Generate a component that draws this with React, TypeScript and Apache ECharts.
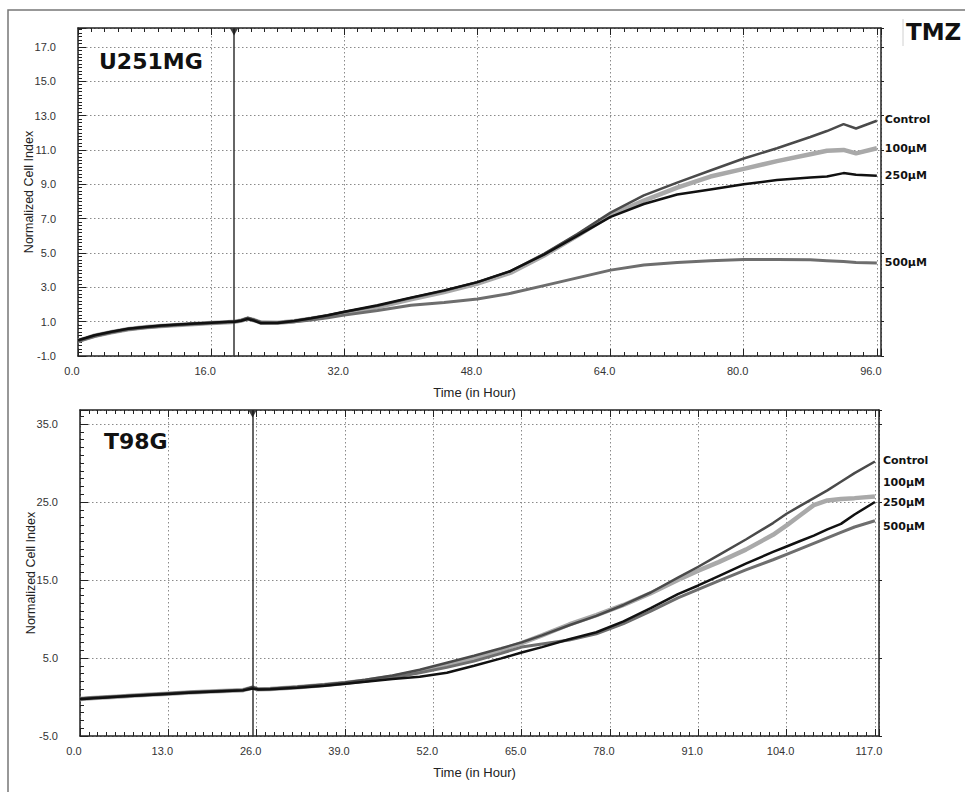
import React, { useEffect, useRef } from 'react';
import * as echarts from 'echarts';

// ---------- U251MG (top panel) ----------
const topTimes = [0, 1, 2, 4, 6, 8, 10, 12, 14, 16, 18, 18.8, 19.6, 20.4, 21.2, 22, 24, 26, 28, 30, 32, 36, 40, 44, 48, 52, 56, 60, 64, 68, 72, 76, 80, 84, 88, 90, 92, 93.5, 96];
const topControl = [-0.1, 0.05, 0.2, 0.4, 0.58, 0.68, 0.76, 0.82, 0.88, 0.93, 0.98, 1.0, 1.08, 1.22, 1.1, 0.95, 0.95, 1.05, 1.2, 1.36, 1.56, 1.92, 2.38, 2.8, 3.3, 3.95, 4.95, 6.1, 7.35, 8.35, 9.1, 9.8, 10.5, 11.1, 11.75, 12.1, 12.5, 12.25, 12.7];
const top100 = [-0.12, 0.03, 0.18, 0.38, 0.56, 0.67, 0.75, 0.81, 0.87, 0.92, 0.97, 1.0, 1.06, 1.18, 1.08, 0.95, 0.93, 1.03, 1.17, 1.32, 1.5, 1.85, 2.3, 2.72, 3.22, 3.85, 4.85, 6.0, 7.2, 8.05, 8.8, 9.45, 9.9, 10.35, 10.75, 10.95, 11.0, 10.8, 11.1];
const top250 = [-0.08, 0.06, 0.21, 0.41, 0.59, 0.69, 0.77, 0.83, 0.89, 0.94, 0.99, 1.0, 1.05, 1.15, 1.05, 0.9, 0.92, 1.04, 1.2, 1.37, 1.58, 1.95, 2.4, 2.82, 3.3, 3.95, 4.9, 6.0, 7.1, 7.85, 8.4, 8.7, 9.0, 9.25, 9.4, 9.45, 9.65, 9.55, 9.5];
const top500 = [-0.15, 0.0, 0.15, 0.36, 0.54, 0.65, 0.73, 0.8, 0.86, 0.91, 0.97, 1.0, 1.05, 1.2, 1.08, 0.95, 0.93, 1.0, 1.1, 1.22, 1.38, 1.65, 1.95, 2.12, 2.32, 2.65, 3.1, 3.55, 4.0, 4.3, 4.45, 4.55, 4.62, 4.62, 4.6, 4.55, 4.5, 4.45, 4.42];
const topMarkerTime = 18.75;

// ---------- T98G (bottom panel) ----------
const botTimes = [0, 2, 4, 6, 8, 10, 13, 16, 20, 24, 25.4, 26.2, 28, 32, 36, 39, 42, 46, 50, 54, 58, 62, 65, 68, 72, 76, 80, 84, 88, 91, 94, 98, 102, 104, 106, 108, 110, 112, 114, 117];
const botControl = [-0.2, -0.1, 0.0, 0.1, 0.2, 0.3, 0.45, 0.6, 0.75, 0.9, 1.3, 1.0, 1.05, 1.3, 1.6, 1.85, 2.2, 2.75, 3.5, 4.4, 5.3, 6.25, 7.0, 7.9, 9.2, 10.4, 11.8, 13.4, 15.3, 16.7, 18.2, 20.2, 22.3, 23.5, 24.5, 25.5, 26.5, 27.6, 28.7, 30.2];
const bot100 = [-0.25, -0.12, -0.02, 0.08, 0.18, 0.28, 0.43, 0.58, 0.73, 0.88, 1.2, 0.98, 1.02, 1.25, 1.55, 1.8, 2.1, 2.6, 3.25, 4.1, 5.0, 6.0, 6.9, 7.9, 9.3, 10.5, 11.8, 13.3, 15.0, 16.2, 17.3, 18.9, 20.8, 22.0, 23.3, 24.6, 25.2, 25.4, 25.5, 25.7];
const bot250 = [-0.3, -0.15, -0.05, 0.05, 0.15, 0.25, 0.4, 0.55, 0.7, 0.85, 1.1, 0.95, 1.0, 1.2, 1.45, 1.7, 1.95, 2.3, 2.6, 3.1, 4.0, 4.95, 5.7, 6.4, 7.4, 8.3, 9.7, 11.4, 13.2, 14.3, 15.5, 17.1, 18.6, 19.3, 20.0, 20.7, 21.5, 22.2, 23.4, 25.0];
const bot500 = [-0.22, -0.1, 0.0, 0.1, 0.2, 0.3, 0.45, 0.6, 0.75, 0.9, 1.15, 1.0, 1.03, 1.25, 1.5, 1.75, 2.05, 2.5, 3.1, 3.8, 4.6, 5.6, 6.4, 6.8, 7.3, 8.1, 9.4, 11.0, 12.7, 13.8, 14.9, 16.3, 17.6, 18.3, 19.0, 19.7, 20.4, 21.1, 21.8, 22.6];
const botMarkerTime = 25.4;

const panelTitles = ['U251MG', 'T98G'];
const drugTitle = 'TMZ';
const xAxisName = 'Time (in Hour)';
const yAxisName = 'Normalized Cell Index';

// axis ranges
const topX = { min: 0, max: 96.5, interval: 16 };
const topY = { min: -1, max: 18.1, interval: 2 };
const botX = { min: 0, max: 117.6, interval: 13 };
const botY = { min: -5, max: 36.8, interval: 10 };

const axisFont = '"Liberation Sans", Arial, sans-serif';
const boldFont = '"DejaVu Sans", Verdana, sans-serif';

const zip = (t: number[], v: number[]) => t.map((x, i) => [x, v[i]]);

const fmt = (min: number, interval: number) => (v: number) => {
  const k = (v - min) / interval;
  return Math.abs(k - Math.round(k)) < 1e-6 ? v.toFixed(1) : '';
};

const frameColor = '#222';

function xAxisCfg(grid: number, r: any, position: 'bottom' | 'top', main: boolean) {
  return {
    type: 'value',
    gridIndex: grid,
    position,
    min: r.min,
    max: r.max,
    interval: r.interval,
    axisLine: { show: true, onZero: false, lineStyle: { color: frameColor, width: 1.5 } },
    axisTick: { show: true, inside: true, length: 7, lineStyle: { color: frameColor, width: 1 } },
    minorTick: { show: true, splitNumber: 10, length: 4, lineStyle: { color: frameColor, width: 1 } },
    splitLine: { show: main, lineStyle: { color: '#8a8a8a', width: 1, type: [1.5, 2.5] } },
    axisLabel: {
      show: main,
      formatter: fmt(r.min, r.interval),
      color: '#333',
      fontSize: 11,
      fontFamily: axisFont,
      margin: 9,
      padding: [0, 12, 0, 0],
      showMaxLabel: false,
    },
    name: main ? xAxisName : '',
    nameLocation: 'middle',
    nameGap: 30,
    nameMoveOverlap: false,
    nameTextStyle: { color: '#222', fontSize: 13, fontFamily: axisFont, padding: [0, 10, 0, 0] },
  };
}

function yAxisCfg(grid: number, r: any, position: 'left' | 'right', main: boolean, shiftUp: boolean) {
  return {
    type: 'value',
    gridIndex: grid,
    position,
    min: r.min,
    max: r.max,
    interval: r.interval,
    axisLine: { show: true, onZero: false, lineStyle: { color: frameColor, width: 1.5 } },
    axisTick: { show: true, inside: main, length: main ? 8 : 3, lineStyle: { color: frameColor, width: 1 } },
    minorTick: { show: main, splitNumber: 10, length: 4, lineStyle: { color: frameColor, width: 1 } },
    splitLine: { show: main, lineStyle: { color: '#8a8a8a', width: 1, type: [1.5, 2.5] } },
    axisLabel: {
      show: main,
      formatter: fmt(r.min, r.interval),
      color: '#333',
      fontSize: 11,
      fontFamily: axisFont,
      margin: 22,
      padding: shiftUp ? [0, 0, 12, 0] : [0, 0, 0, 0],
      showMaxLabel: false,
    },
    name: main ? yAxisName : '',
    nameLocation: 'middle',
    nameGap: 43,
    nameMoveOverlap: false,
    nameTextStyle: { color: '#222', fontSize: 12.5, fontFamily: axisFont },
  };
}

const styles: Record<string, { color: string; width: number; z: number }> = {
  'Control': { color: '#4a4a4a', width: 2.5, z: 4 },
  '100µM': { color: '#a9a9a9', width: 4.5, z: 2 },
  '250µM': { color: '#111111', width: 2.5, z: 5 },
  '500µM': { color: '#6e6e6e', width: 3, z: 3 },
};

function lineSeries(name: string, data: number[][], xi: number, yi: number, labelDy: number, marker?: number) {
  const s = styles[name];
  const o: any = {
    type: 'line',
    name,
    xAxisIndex: xi,
    yAxisIndex: yi,
    data,
    showSymbol: false,
    symbol: 'none',
    z: s.z,
    lineStyle: { color: s.color, width: s.width },
    itemStyle: { color: s.color },
    endLabel: {
      show: true,
      formatter: name,
      color: '#111',
      fontSize: 11,
      fontWeight: 'bold',
      fontFamily: boldFont,
      distance: 8,
      offset: [0, labelDy],
    },
  };
  if (marker !== undefined) {
    o.markLine = {
      silent: true,
      symbol: 'none',
      animation: false,
      label: { show: false },
      lineStyle: { color: '#333', width: 1.5, type: 'solid' },
      data: [{ xAxis: marker }],
    };
  }
  return o;
}

function markerTriangle(xi: number, yi: number, t: number, ymax: number) {
  return {
    type: 'scatter',
    xAxisIndex: xi,
    yAxisIndex: yi,
    data: [[t, ymax]],
    symbol: 'triangle',
    symbolRotate: 180,
    symbolSize: [8, 7],
    symbolOffset: [0, 4],
    clip: false,
    itemStyle: { color: '#111' },
    z: 6,
  };
}

export default function App() {
  const ref = useRef<HTMLDivElement>(null);
  useEffect(() => {
    if (!ref.current) return;
    const chart = echarts.init(ref.current, undefined, { renderer: 'svg' });
    const option: any = {
      animation: false,
      backgroundColor: '#ffffff',
      grid: [
        { left: 78, top: 28, width: 803, height: 328, show: false },
        { left: 80, top: 410, width: 799, height: 326, show: false },
      ],
      xAxis: [
        xAxisCfg(0, topX, 'bottom', true),
        xAxisCfg(0, topX, 'top', false),
        xAxisCfg(1, botX, 'bottom', true),
        xAxisCfg(1, botX, 'top', false),
      ],
      yAxis: [
        yAxisCfg(0, topY, 'left', true, true),
        yAxisCfg(0, topY, 'right', false, false),
        yAxisCfg(1, botY, 'left', true, false),
        yAxisCfg(1, botY, 'right', false, false),
      ],
      series: [
        lineSeries('100µM', zip(topTimes, top100), 0, 0, 0),
        lineSeries('500µM', zip(topTimes, top500), 0, 0, 0),
        lineSeries('Control', zip(topTimes, topControl), 0, 0, -1, topMarkerTime),
        lineSeries('250µM', zip(topTimes, top250), 0, 0, 0),
        markerTriangle(1, 0, topMarkerTime, topY.max),
        lineSeries('100µM', zip(botTimes, bot100), 2, 2, -14),
        lineSeries('500µM', zip(botTimes, bot500), 2, 2, 6),
        lineSeries('Control', zip(botTimes, botControl), 2, 2, -1, botMarkerTime),
        lineSeries('250µM', zip(botTimes, bot250), 2, 2, 0),
        markerTriangle(3, 2, botMarkerTime, botY.max),
      ],
      graphic: [
        {
          type: 'rect',
          silent: true,
          shape: { x: 8, y: 10, width: 1000, height: 1000 },
          style: { fill: 'none', stroke: '#777', lineWidth: 1.5 },
        },
        {
          type: 'line',
          silent: true,
          shape: { x1: 903, y1: 19, x2: 903, y2: 46 },
          style: { stroke: '#d0d0d0', lineWidth: 1 },
        },
        {
          type: 'text',
          x: 906,
          y: 32,
          style: { text: drugTitle, fontSize: 23, fontWeight: 'bold', fontFamily: boldFont, fill: '#111', verticalAlign: 'middle' },
          z: 10,
        },
        {
          type: 'text',
          x: 99,
          y: 61,
          style: { text: panelTitles[0], fontSize: 22, fontWeight: 'bold', fontFamily: boldFont, fill: '#111', verticalAlign: 'middle' },
          z: 10,
        },
        {
          type: 'text',
          x: 104,
          y: 441,
          style: { text: panelTitles[1], fontSize: 22, fontWeight: 'bold', fontFamily: boldFont, fill: '#111', verticalAlign: 'middle' },
          z: 10,
        },
      ],
    };
    chart.setOption(option);
    return () => chart.dispose();
  }, []);
  return (
    <div
      ref={ref}
      style={{ position: 'absolute', left: 0, top: 0, width: 965, height: 792, background: '#fff' }}
    />
  );
}
